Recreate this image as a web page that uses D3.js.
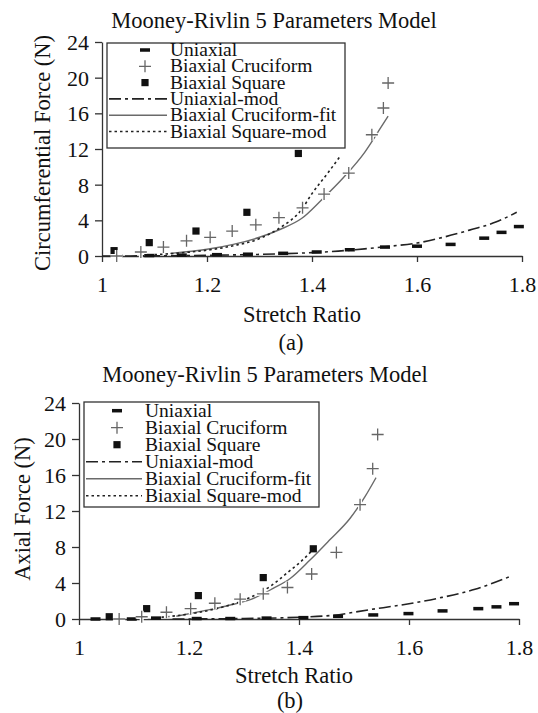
<!DOCTYPE html>
<html><head><meta charset="utf-8">
<script src="https://cdn.jsdelivr.net/npm/d3@7"></script>
<style>
body{margin:0;background:#fff}
svg, svg text{font-family:"Liberation Serif","Times New Roman","DejaVu Serif",serif !important;fill:#111}
</style>
</head><body>
<svg id="chart" width="538" height="713"></svg>
<script>
// Axis ticks shared by both panels
const stretchTicks = [1, 1.2, 1.4, 1.6, 1.8];
const forceTicks = [0, 4, 8, 12, 16, 20, 24];
const legendLabels = ["Uniaxial", "Biaxial Cruciform", "Biaxial Square",
  "Uniaxial-mod", "Biaxial Cruciform-fit", "Biaxial Square-mod"];
const chartTitle = "Mooney-Rivlin 5 Parameters Model";

// Panel (a): circumferential force, [stretch ratio, force N]
const circUniaxial = [[1.03,0.0],[1.09,0.05],[1.152,0.1],[1.219,0.15],[1.278,0.2],[1.345,0.3],[1.409,0.45],[1.472,0.7],[1.539,1.0],[1.60,1.1],[1.664,1.3],[1.728,2.0],[1.761,2.65],[1.794,3.3]];
const circCruciform = [[1.028,0.0],[1.074,0.45],[1.117,1.0],[1.161,1.7],[1.206,2.1],[1.248,2.8],[1.293,3.5],[1.337,4.3],[1.382,5.4],[1.423,6.95],[1.470,9.3],[1.514,13.6],[1.536,16.6],[1.545,19.4]];
const circSquare = [[1.023,0.6],[1.09,1.5],[1.179,2.8],[1.276,4.9],[1.374,11.5]];
const circUniaxialMod = [[1.0,0.0],[1.1,0.02],[1.2,0.08],[1.3,0.18],[1.4,0.38],[1.45,0.55],[1.5,0.8],[1.55,1.1],[1.6,1.45],[1.65,2.1],[1.7,2.9],[1.75,3.8],[1.79,4.9]];
const circCruciformFit = [[1.13,0.3],[1.2,0.75],[1.25,1.3],[1.3,2.1],[1.34,3.0],[1.38,4.2],[1.42,6.4],[1.46,8.8],[1.5,11.6],[1.53,14.3],[1.545,15.7]];
const circSquareMod = [[1.1,0.15],[1.15,0.35],[1.2,0.65],[1.25,1.15],[1.3,1.95],[1.34,3.2],[1.38,5.2],[1.4,7.0],[1.43,9.3],[1.455,11.3]];

// Panel (b): axial force, [stretch ratio, force N]
const axUniaxial = [[1.03,0.0],[1.096,0.0],[1.14,0.1],[1.214,0.05],[1.275,0.05],[1.341,0.1],[1.408,0.15],[1.471,0.3],[1.535,0.45],[1.599,0.6],[1.661,0.9],[1.726,1.15],[1.759,1.35],[1.791,1.7]];
const axCruciform = [[1.073,0.0],[1.114,0.25],[1.159,0.75],[1.203,1.15],[1.247,1.75],[1.293,2.2],[1.335,2.8],[1.379,3.5],[1.423,5.0],[1.468,7.4],[1.511,12.7],[1.534,16.7],[1.543,20.5]];
const axSquare = [[1.055,0.25],[1.123,1.15],[1.217,2.6],[1.335,4.6],[1.426,7.8]];
const axUniaxialMod = [[1.17,0.0],[1.3,0.05],[1.4,0.2],[1.46,0.4],[1.53,1.05],[1.6,1.7],[1.66,2.4],[1.72,3.3],[1.787,4.8]];
const axCruciformFit = [[1.177,0.3],[1.226,0.9],[1.268,1.45],[1.314,2.2],[1.353,3.4],[1.384,4.5],[1.42,6.55],[1.456,8.8],[1.493,11.2],[1.52,13.6],[1.54,15.7]];
const axSquareMod = [[1.15,0.2],[1.2,0.55],[1.25,1.15],[1.3,2.1],[1.347,3.6],[1.384,5.4],[1.402,6.3],[1.43,8.0]];

const FONT = '"Liberation Serif","Times New Roman","DejaVu Serif",serif';
const svg = d3.select("#chart").style("font-family", FONT);

const panels = [
  { yLabel: "Circumferential Force (N)", caption: "(a)",
    data: { uni: circUniaxial, cru: circCruciform, sq: circSquare,
            uniMod: circUniaxialMod, fit: circCruciformFit, sqMod: circSquareMod },
    x0: 102, x1: 522, yTop: 42, yBot: 256,
    titleX: 274, titleY: 28, yLabelX: 50, yLabelY: 153,
    xLabelX: 302, xLabelY: 322, capX: 291, capY: 350,
    legend: { x: 107, y: 43, w: 238, h: 105, symX: 145, textX: 170, base: 56, step: 16.3, lineX0: 109, lineX1: 167 } },
  { yLabel: "Axial Force (N)", caption: "(b)",
    data: { uni: axUniaxial, cru: axCruciform, sq: axSquare,
            uniMod: axUniaxialMod, fit: axCruciformFit, sqMod: axSquareMod },
    x0: 79, x1: 519, yTop: 403, yBot: 619,
    titleX: 265, titleY: 382, yLabelX: 30, yLabelY: 509,
    xLabelX: 294, xLabelY: 683, capX: 290, capY: 708,
    legend: { x: 84, y: 402, w: 235, h: 105, symX: 117, textX: 145, base: 416.7, step: 17, lineX0: 86, lineX1: 142 } }
];

const styles = {
  uniMod: { stroke: "#222", width: 1.6, dash: "12,4,3,4" },
  fit:    { stroke: "#6a6a6a", width: 1.4, dash: null },
  sqMod:  { stroke: "#222", width: 1.6, dash: "2.5,3" }
};

function label(g, str, size) {
  return g.append("text").style("font-family", FONT).attr("font-size", size).attr("fill", "#111").text(str);
}

function drawMarker(g, type, x, y) {
  if (type === "uni") {
    g.append("rect").attr("x", x - 5).attr("y", y - 1.75).attr("width", 10).attr("height", 3.5).attr("fill", "#111");
  } else if (type === "cru") {
    g.append("path").attr("d", `M${x-6},${y}H${x+6}M${x},${y-6}V${y+6}`)
      .attr("stroke", "#fff").attr("stroke-width", 4).attr("fill", "none");
    g.append("path").attr("d", `M${x-6},${y}H${x+6}M${x},${y-6}V${y+6}`)
      .attr("stroke", "#666").attr("stroke-width", 1.3).attr("fill", "none");
  } else {
    g.append("rect").attr("x", x - 3.6).attr("y", y - 3.6).attr("width", 7.2).attr("height", 7.2).attr("fill", "#111");
  }
}

panels.forEach(p => {
  const g = svg.append("g");
  const x = d3.scaleLinear().domain([1, 1.8]).range([p.x0, p.x1]);
  const y = d3.scaleLinear().domain([0, 24]).range([p.yBot, p.yTop]);

  // axes
  const xAxis = g.append("g").attr("transform", `translate(0,${p.yBot})`)
    .call(d3.axisBottom(x).tickValues(stretchTicks).tickFormat(d3.format("~g")).tickSizeInner(6).tickSizeOuter(0));
  const yAxis = g.append("g").attr("transform", `translate(${p.x0},0)`)
    .call(d3.axisLeft(y).tickValues(forceTicks).tickSizeInner(7).tickSizeOuter(0));
  [xAxis, yAxis].forEach(a => {
    a.attr("font-family", null).style("font-family", FONT);
    a.select(".domain").attr("stroke", "#333").attr("stroke-width", 1.3);
    a.selectAll(".tick line").attr("stroke", "#333").attr("stroke-width", 1.3);
    a.selectAll(".tick text").style("font-family", FONT).attr("font-size", 22).attr("fill", "#111");
  });
  xAxis.selectAll(".tick text").attr("dy", null).attr("y", 36);
  yAxis.selectAll(".tick text").attr("x", -13).attr("dy", "0.34em");

  // model curves
  const line = d3.line().x(d => x(d[0])).y(d => y(d[1])).curve(d3.curveMonotoneX);
  ["fit", "sqMod", "uniMod"].forEach(k => {
    const s = styles[k];
    g.append("path").datum(p.data[k]).attr("d", line)
      .attr("fill", "none").attr("stroke", s.stroke).attr("stroke-width", s.width)
      .attr("stroke-dasharray", s.dash);
  });

  // measured points
  const mk = g.append("g");
  ["uni", "sq", "cru"].forEach(k => p.data[k].forEach(d => drawMarker(mk, k, x(d[0]), y(d[1]))));

  // legend
  const L = p.legend;
  const lg = g.append("g");
  lg.append("rect").attr("x", L.x).attr("y", L.y).attr("width", L.w).attr("height", L.h)
    .attr("fill", "#fff").attr("stroke", "#333").attr("stroke-width", 1.3);
  const keys = ["uni", "cru", "sq", "uniMod", "fit", "sqMod"];
  keys.forEach((k, i) => {
    const by = L.base + i * L.step;
    const cy = by - 6;
    if (i < 3) drawMarker(lg, k, L.symX, cy);
    else {
      const s = styles[k];
      lg.append("line").attr("x1", L.lineX0).attr("x2", L.lineX1).attr("y1", cy).attr("y2", cy)
        .attr("stroke", s.stroke).attr("stroke-width", s.width).attr("stroke-dasharray", s.dash);
    }
    label(lg, legendLabels[i], 19.5).attr("x", L.textX).attr("y", by);
  });

  // titles
  label(g, chartTitle, 22.5).attr("x", p.titleX).attr("y", p.titleY).attr("text-anchor", "middle");
  label(g, p.yLabel, 22.5).attr("transform", `translate(${p.yLabelX},${p.yLabelY}) rotate(-90)`)
    .attr("text-anchor", "middle");
  label(g, "Stretch Ratio", 22.5).attr("x", p.xLabelX).attr("y", p.xLabelY).attr("text-anchor", "middle");
  label(g, p.caption, 22.5).attr("x", p.capX).attr("y", p.capY).attr("text-anchor", "middle");
});
</script>
</body></html>
